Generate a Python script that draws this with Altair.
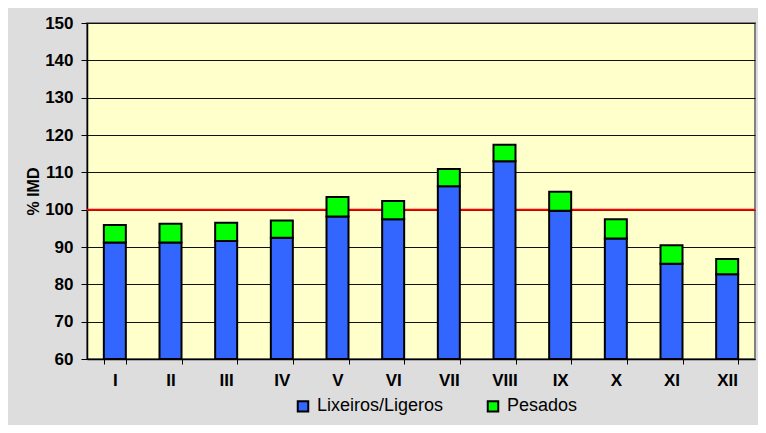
import altair as alt
import pandas as pd

months = ["I", "II", "III", "IV", "V", "VI", "VII", "VIII", "IX", "X", "XI", "XII"]
ligeros = [91.2, 91.2, 91.6, 92.5, 98.2, 97.4, 106.3, 113.0, 99.7, 92.3, 85.5, 82.7]
pesados = [4.7, 5.0, 4.9, 4.6, 5.2, 4.9, 4.6, 4.4, 5.1, 5.1, 5.0, 4.1]
series = ["Lixeiros/Ligeros", "Pesados"]
colors = ["#3366FF", "#00FF00"]
y_ticks = [60, 70, 80, 90, 100, 110, 120, 130, 140, 150]
reference = 100
base = 60

rows = []
for m, l, p in zip(months, ligeros, pesados):
    rows.append({"mes": m, "serie": series[0], "y0": base, "y1": l})
    rows.append({"mes": m, "serie": series[1], "y0": l, "y1": l + p})
df = pd.DataFrame(rows)

FONT = "Liberation Sans"

yscale = alt.Scale(domain=[60, 150], nice=False, zero=False)
yaxis = alt.Axis(values=y_ticks, grid=True, labelOverlap=False, title="% IMD",
                 gridColor="#111111", gridWidth=1, labelPadding=8, tickSize=6,
                 titlePadding=3, zindex=0)
xaxis = alt.Axis(labelAngle=0, tickBand="extent", grid=False,
                 labelPadding=8, tickSize=5)
xscale = alt.Scale(domain=months, paddingInner=0.6, paddingOuter=0.3)

bars = alt.Chart(df).mark_bar(size=22, stroke="black", strokeWidth=2).encode(
    x=alt.X("mes:N", sort=months, title=None, scale=xscale, axis=xaxis),
    y=alt.Y("y0:Q", scale=yscale, title="% IMD", axis=yaxis),
    y2="y1:Q",
    color=alt.Color("serie:N", scale=alt.Scale(domain=series, range=colors),
                    title=None,
                    legend=alt.Legend(orient="none", legendX=207, legendY=374,
                                      direction="horizontal", columns=2,
                                      symbolType="square", symbolSize=110,
                                      symbolStrokeColor="black", symbolStrokeWidth=2,
                                      labelFont=FONT, labelFontSize=18,
                                      labelColor="black", labelOffset=5,
                                      columnPadding=39)),
)

rule = alt.Chart(pd.DataFrame({"v": [reference]})).mark_rule(
    color="#FF0000", strokeWidth=2).encode(
    y=alt.Y("v:Q", scale=yscale, title="% IMD", axis=yaxis))

chart = alt.layer(rule, bars).properties(
    width=668, height=336,
    background="#DDDDDD",
    autosize=alt.AutoSizeParams(type="none"),
    padding={"left": 79, "top": 15, "right": 3, "bottom": 66},
).configure_view(
    fill="#FFFFCC", stroke="#808080", strokeWidth=2
).configure_axis(
    labelFont=FONT, labelFontSize=17, labelFontWeight="bold", labelColor="black",
    titleFont=FONT, titleFontSize=16, titleFontWeight="bold", titleColor="black",
    domainColor="black", tickColor="black", domainWidth=1.5
)

chart.save("out.html", embed_options={"renderer": "svg", "actions": False})
